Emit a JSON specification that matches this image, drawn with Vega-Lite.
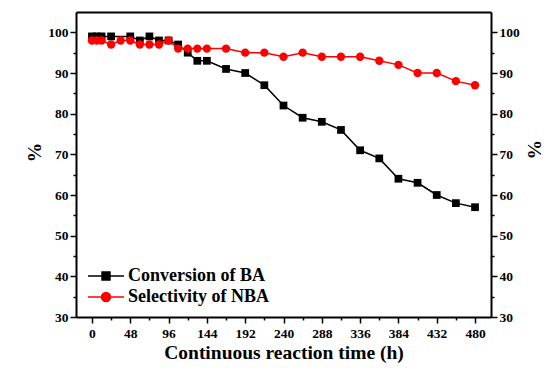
{
  "$schema": "https://vega.github.io/schema/vega-lite/v6.json",
  "autosize": "none",
  "width": 415,
  "height": 305,
  "padding": {"left": 76, "top": 12, "right": 57, "bottom": 53},
  "config": {
    "font": "Liberation Serif, Times New Roman, DejaVu Serif, serif",
    "view": {"stroke": null},
    "axis": {
      "labelFont": "Liberation Serif, Times New Roman, DejaVu Serif, serif",
      "labelFontWeight": "bold",
      "labelFontSize": 13.5,
      "labelColor": "#000",
      "titleFont": "Liberation Serif, Times New Roman, DejaVu Serif, serif",
      "titleFontWeight": "bold",
      "titleFontSize": 19.5,
      "titleColor": "#000",
      "domainColor": "#000",
      "domainWidth": 2,
      "tickColor": "#000",
      "tickWidth": 1.5,
      "grid": false
    },
    "legend": {
      "labelFont": "Liberation Serif, Times New Roman, DejaVu Serif, serif",
      "labelFontWeight": "bold",
      "labelFontSize": 18,
      "labelColor": "#000"
    }
  },
  "data": {
    "values": [
      {"t": 0, "v": 99, "series": "Conversion of BA"},
      {"t": 6, "v": 99, "series": "Conversion of BA"},
      {"t": 12, "v": 99, "series": "Conversion of BA"},
      {"t": 24, "v": 99, "series": "Conversion of BA"},
      {"t": 48, "v": 99, "series": "Conversion of BA"},
      {"t": 60, "v": 98, "series": "Conversion of BA"},
      {"t": 72, "v": 99, "series": "Conversion of BA"},
      {"t": 84, "v": 98, "series": "Conversion of BA"},
      {"t": 96, "v": 98, "series": "Conversion of BA"},
      {"t": 108, "v": 97, "series": "Conversion of BA"},
      {"t": 120, "v": 95, "series": "Conversion of BA"},
      {"t": 132, "v": 93, "series": "Conversion of BA"},
      {"t": 144, "v": 93, "series": "Conversion of BA"},
      {"t": 168, "v": 91, "series": "Conversion of BA"},
      {"t": 192, "v": 90, "series": "Conversion of BA"},
      {"t": 216, "v": 87, "series": "Conversion of BA"},
      {"t": 240, "v": 82, "series": "Conversion of BA"},
      {"t": 264, "v": 79, "series": "Conversion of BA"},
      {"t": 288, "v": 78, "series": "Conversion of BA"},
      {"t": 312, "v": 76, "series": "Conversion of BA"},
      {"t": 336, "v": 71, "series": "Conversion of BA"},
      {"t": 360, "v": 69, "series": "Conversion of BA"},
      {"t": 384, "v": 64, "series": "Conversion of BA"},
      {"t": 408, "v": 63, "series": "Conversion of BA"},
      {"t": 432, "v": 60, "series": "Conversion of BA"},
      {"t": 456, "v": 58, "series": "Conversion of BA"},
      {"t": 480, "v": 57, "series": "Conversion of BA"},
      {"t": 0, "v": 98, "series": "Selectivity of NBA"},
      {"t": 6, "v": 98, "series": "Selectivity of NBA"},
      {"t": 12, "v": 98, "series": "Selectivity of NBA"},
      {"t": 24, "v": 97, "series": "Selectivity of NBA"},
      {"t": 36, "v": 98, "series": "Selectivity of NBA"},
      {"t": 48, "v": 98, "series": "Selectivity of NBA"},
      {"t": 60, "v": 97, "series": "Selectivity of NBA"},
      {"t": 72, "v": 97, "series": "Selectivity of NBA"},
      {"t": 84, "v": 97, "series": "Selectivity of NBA"},
      {"t": 96, "v": 98, "series": "Selectivity of NBA"},
      {"t": 108, "v": 96, "series": "Selectivity of NBA"},
      {"t": 120, "v": 96, "series": "Selectivity of NBA"},
      {"t": 132, "v": 96, "series": "Selectivity of NBA"},
      {"t": 144, "v": 96, "series": "Selectivity of NBA"},
      {"t": 168, "v": 96, "series": "Selectivity of NBA"},
      {"t": 192, "v": 95, "series": "Selectivity of NBA"},
      {"t": 216, "v": 95, "series": "Selectivity of NBA"},
      {"t": 240, "v": 94, "series": "Selectivity of NBA"},
      {"t": 264, "v": 95, "series": "Selectivity of NBA"},
      {"t": 288, "v": 94, "series": "Selectivity of NBA"},
      {"t": 312, "v": 94, "series": "Selectivity of NBA"},
      {"t": 336, "v": 94, "series": "Selectivity of NBA"},
      {"t": 360, "v": 93, "series": "Selectivity of NBA"},
      {"t": 384, "v": 92, "series": "Selectivity of NBA"},
      {"t": 408, "v": 90, "series": "Selectivity of NBA"},
      {"t": 432, "v": 90, "series": "Selectivity of NBA"},
      {"t": 456, "v": 88, "series": "Selectivity of NBA"},
      {"t": 480, "v": 87, "series": "Selectivity of NBA"}
    ]
  },
  "layer": [
    {
      "transform": [{"filter": "datum.series === 'Conversion of BA'"}],
      "mark": {"type": "line", "color": "#000", "strokeWidth": 1.5},
      "encoding": {
        "x": {"field": "t", "type": "quantitative", "scale": {"domain": [-20, 500], "nice": false, "zero": false},
          "axis": {"orient": "bottom", "values": [0, 48, 96, 144, 192, 240, 288, 336, 384, 432, 480], "tickSize": 6, "labelPadding": 3, "title": "Continuous reaction time (h)", "titlePadding": 4}},
        "y": {"field": "v", "type": "quantitative", "scale": {"domain": [30, 105], "nice": false, "zero": false},
          "axis": {"orient": "left", "values": [30, 40, 50, 60, 70, 80, 90, 100], "tickSize": 6, "labelPadding": 2, "title": "%", "titlePadding": 3, "titleY": 140}}
      }
    },
    {
      "transform": [{"filter": "datum.series === 'Conversion of BA'"}],
      "mark": {"type": "point", "shape": "square", "filled": true, "color": "#000", "size": 60, "opacity": 1},
      "encoding": {
        "x": {"field": "t", "type": "quantitative", "scale": {"domain": [-20, 500], "nice": false, "zero": false},
          "axis": {"orient": "bottom", "values": [24, 72, 120, 168, 216, 264, 312, 360, 408, 456], "tickSize": 3, "labels": false, "domain": false, "title": null}},
        "y": {"field": "v", "type": "quantitative", "scale": {"domain": [30, 105], "nice": false, "zero": false},
          "axis": {"orient": "left", "values": [35, 45, 55, 65, 75, 85, 95], "tickSize": 3, "labels": false, "domain": false, "title": null}}
      }
    },
    {
      "transform": [{"filter": "datum.series === 'Selectivity of NBA'"}],
      "mark": {"type": "line", "color": "#ff0000", "strokeWidth": 1.5},
      "encoding": {
        "x": {"field": "t", "type": "quantitative", "scale": {"domain": [-20, 500], "nice": false, "zero": false},
          "axis": {"orient": "top", "ticks": false, "labels": false, "title": null}},
        "y": {"field": "v", "type": "quantitative", "scale": {"domain": [30, 105], "nice": false, "zero": false},
          "axis": {"orient": "right", "values": [30, 40, 50, 60, 70, 80, 90, 100], "tickSize": 6, "labelPadding": 2, "title": "%", "titlePadding": 4, "titleY": 137}}
      }
    },
    {
      "transform": [{"filter": "datum.series === 'Selectivity of NBA'"}],
      "mark": {"type": "point", "shape": "circle", "filled": true, "color": "#ff0000", "size": 70, "opacity": 1},
      "encoding": {
        "x": {"field": "t", "type": "quantitative", "scale": {"domain": [-20, 500], "nice": false, "zero": false}, "axis": null},
        "y": {"field": "v", "type": "quantitative", "scale": {"domain": [30, 105], "nice": false, "zero": false},
          "axis": {"orient": "right", "values": [35, 45, 55, 65, 75, 85, 95], "tickSize": 3, "labels": false, "domain": false, "title": null}}
      }
    },
    {
      "mark": {"type": "point", "filled": true, "opacity": 0, "strokeWidth": 1.5},
      "encoding": {
        "x": {"field": "t", "type": "quantitative", "scale": {"domain": [-20, 500], "nice": false, "zero": false}, "axis": null},
        "y": {"field": "v", "type": "quantitative", "scale": {"domain": [30, 105], "nice": false, "zero": false}, "axis": null},
        "fill": {"field": "series", "type": "nominal", "scale": {"domain": ["Conversion of BA", "Selectivity of NBA"], "range": ["#000000", "#ff0000"]},
          "legend": {"orient": "none", "legendX": 11, "legendY": 254, "title": null, "padding": 0, "symbolSize": 1296, "clipHeight": 20, "rowPadding": 1, "labelOffset": 3, "symbolStrokeWidth": 1.5,
            "encode": {"symbols": {"update": {"fillOpacity": {"value": 1}, "strokeOpacity": {"value": 1}, "opacity": {"value": 1}}}}}},
        "stroke": {"field": "series", "type": "nominal", "scale": {"domain": ["Conversion of BA", "Selectivity of NBA"], "range": ["#000000", "#ff0000"]}},
        "shape": {"field": "series", "type": "nominal", "scale": {"domain": ["Conversion of BA", "Selectivity of NBA"], "range": ["M-1,0H1M-0.22,-0.22H0.22V0.22H-0.22Z", "M-1,0H1M0.25,0A0.25,0.25 0 1,1 -0.25,0A0.25,0.25 0 1,1 0.25,0Z"]}}
      }
    }
  ],
  "resolve": {
    "scale": {"x": "independent", "y": "independent", "fill": "independent", "stroke": "independent", "shape": "independent"},
    "axis": {"x": "independent", "y": "independent"}
  }
}
